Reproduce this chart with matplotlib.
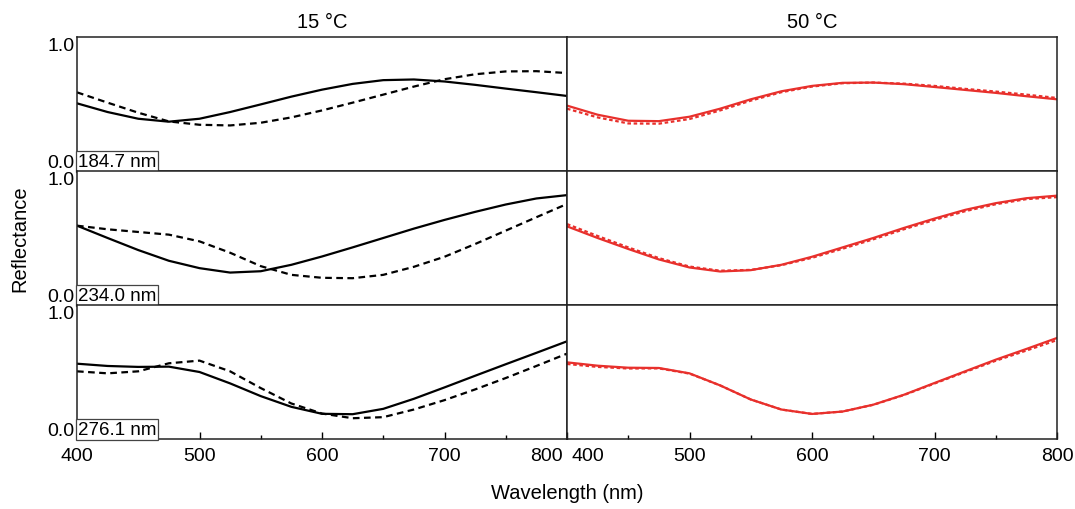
import numpy as np
import matplotlib
matplotlib.use("Agg")
import matplotlib.pyplot as plt
from matplotlib.transforms import ScaledTranslation

plt.rcParams['font.family'] = ['Liberation Sans', 'DejaVu Sans']

# wavelength grid (nm), values every 25 nm
wavelength = [400, 425, 450, 475, 500, 525, 550, 575, 600, 625, 650, 675, 700, 725, 750, 775, 800]

thickness_labels = ["184.7 nm", "234.0 nm", "276.1 nm"]
column_titles = ["15 \u00b0C", "50 \u00b0C"]
x_ticks = [400, 500, 600, 700, 800]
x_minor = [450, 550, 650, 750]

# 15 C column (black): solid / dashed
cold_solid = [
    [.505, .44, .39, .368, .39, .44, .497, .555, .607, .65, .678, .683, .668, .643, .615, .588, .56],
    [.592, .50, .41, .33, .275, .242, .252, .30, .362, .43, .50, .57, .635, .695, .75, .795, .82],
    [.562, .545, .538, .54, .50, .415, .32, .24, .188, .185, .225, .30, .385, .472, .558, .643, .729],
]
cold_dashed = [
    [.587, .51, .435, .37, .345, .34, .36, .40, .452, .51, .57, .63, .685, .722, .743, .745, .731],
    [.592, .565, .545, .525, .475, .39, .29, .225, .203, .20, .225, .285, .36, .455, .555, .655, .754],
    [.505, .49, .505, .565, .585, .505, .38, .265, .19, .155, .163, .22, .29, .37, .455, .545, .637],
]

# 50 C column (red): solid / dashed
hot_solid = [
    [.488, .42, .375, .372, .405, .465, .535, .595, .635, .658, .66, .648, .627, .605, .583, .558, .535],
    [.587, .50, .418, .34, .28, .25, .26, .30, .36, .43, .50, .575, .645, .71, .76, .797, .816],
    [.572, .547, .532, .53, .49, .40, .295, .22, .187, .205, .256, .33, .418, .505, .592, .672, .754],
]
hot_dashed = [
    [.465, .40, .355, .353, .388, .452, .525, .588, .63, .655, .66, .652, .635, .613, .593, .57, .545],
    [.604, .515, .43, .35, .287, .256, .262, .297, .352, .42, .49, .565, .635, .70, .752, .79, .805],
    [.56, .538, .526, .527, .488, .40, .295, .22, .187, .205, .255, .328, .414, .50, .584, .66, .738],
]

red = '#e8302c'

fig = plt.figure(figsize=(10.75, 5.1), dpi=100)

left0 = 77 / 1075
col_w = 490 / 1075
row_h = 134 / 510
top = 1 - 38 / 510

for row in range(3):
    for col in range(2):
        ax = fig.add_axes([left0 + col * col_w, top - (row + 1) * row_h, col_w, row_h])
        if col == 0:
            ax.plot(wavelength, cold_solid[row], color='black', lw=1.6)
            ax.plot(wavelength, cold_dashed[row], color='black', lw=1.6, ls=(0, (3, 2)))
        else:
            ax.plot(wavelength, hot_solid[row], color=red, lw=1.6)
            ax.plot(wavelength, hot_dashed[row], color=red, lw=1.6, ls=(0, (1.6, 1.2)))
        ax.set_xlim(400, 800)
        ax.set_ylim(0, 1)
        for s in ax.spines.values():
            s.set_linewidth(1.1)
            s.set_color('#222222')

        if col == 0:
            ax.set_yticks([0, 1])
            ylabs = ax.set_yticklabels(["0.0", "1.0"], fontsize=14)
            ax.tick_params(axis='y', length=0, pad=2)
            ylabs[0].set_va('bottom')
            ylabs[1].set_va('top')
            ax.text(0.002, 0.006, thickness_labels[row], transform=ax.transAxes,
                    ha='left', va='bottom', fontsize=13.5,
                    bbox=dict(boxstyle='square,pad=0.1', fc='white', ec='#444444', lw=0.9))
        else:
            ax.set_yticks([])

        if row == 2:
            ax.set_xticks(x_ticks)
            ax.set_xticks(x_minor, minor=True)
            xlabs = ax.set_xticklabels([str(t) for t in x_ticks], fontsize=14)
            ax.tick_params(axis='x', which='major', direction='in', length=5, width=1, pad=6)
            ax.tick_params(axis='x', which='minor', direction='in', length=3, width=1)
            if col == 0:
                xlabs[-1].set_ha('right')
                xlabs[-1].set_transform(xlabs[-1].get_transform() + ScaledTranslation(-3 / 72, 0, fig.dpi_scale_trans))
            else:
                xlabs[0].set_ha('left')
                xlabs[0].set_transform(xlabs[0].get_transform() + ScaledTranslation(3 / 72, 0, fig.dpi_scale_trans))
        else:
            ax.set_xticks([])

        if row == 0:
            ax.set_title(column_titles[col], fontsize=14.5, pad=7)

fig.text(20 / 1075, 1 - 239 / 510, "Reflectance", rotation=90, ha='center', va='center', fontsize=14.5)
fig.text(567 / 1075, 1 - 494 / 510, "Wavelength (nm)", ha='center', va='center', fontsize=14.5)

fig.savefig('out.png', dpi=100)
